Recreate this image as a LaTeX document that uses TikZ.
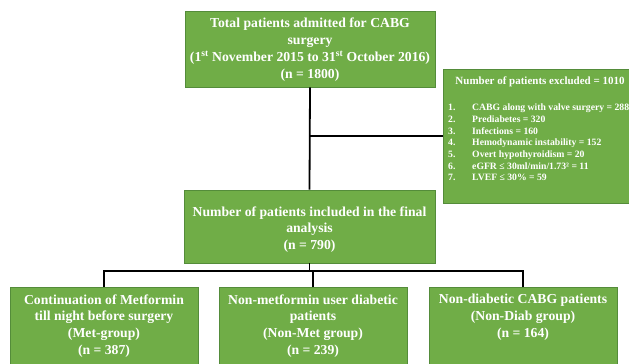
\documentclass[tikz,border=0pt]{standalone}
\usepackage{fontspec}
\setmainfont{Liberation Serif}
\definecolor{boxfill}{HTML}{70AD47}
\definecolor{boxline}{RGB}{84,140,58}
\tikzset{
  x=1pt, y=-1pt,
  gbox/.style={draw=boxline, line width=0.8pt, fill=boxfill, inner sep=0pt, rectangle},
  btext/.style={text=white, font=\bfseries\fontsize{13.7}{16.8}\selectfont, align=center, inner sep=0pt},
  link/.style={draw=black, line width=1.8pt}
}
\begin{document}
\begin{tikzpicture}
\clip (0,0) rectangle (629,364);
\fill[white] (0,0) rectangle (629,364);
% boxes
\node[gbox, minimum width=250pt, minimum height=76pt] (top) at (310,49) {};
\node[gbox, minimum width=200pt, minimum height=134pt] (excl) at (543,136) {};
\node[gbox, minimum width=251pt, minimum height=73pt] (mid) at (309.5,226.5) {};
\node[gbox, minimum width=188pt, minimum height=100pt] (left) at (104,337) {};
\node[gbox, minimum width=188pt, minimum height=100pt] (center) at (313,337) {};
\node[gbox, minimum width=188pt, minimum height=100pt] (right) at (523,337) {};
% texts
\node[btext] (toptext) at (310,49.5) {Total patients admitted for CABG\\surgery\\(1\textsuperscript{st} November 2015 to 31\textsuperscript{st} October 2016)\\(n = 1800)};
\node[btext] (midtext) at (309.5,229.5) {Number of patients included in the final\\analysis\\(n = 790)};
\node[btext] (lefttext) at (104,326) {Continuation of Metformin\\till night before surgery\\(Met-group)\\(n = 387)};
\node[btext] (centertext) at (313,326) {Non-metformin user diabetic\\patients\\(Non-Met group)\\(n = 239)};
\node[btext] (righttext) at (523,317.5) {Non-diabetic CABG patients\\(Non-Diab group)\\(n = 164)};
\node[text=white, font=\bfseries\fontsize{11}{13}\selectfont, inner sep=0pt] (exhead) at (540,82) {Number of patients excluded = 1010};
\node[text=white, font=\bfseries\fontsize{9.7}{11.7}\selectfont, inner sep=0pt, anchor=west] (exlist) at (448,143.5) {%
\begin{tabular}{@{}p{24pt}@{}l@{}}
1. & CABG along with valve surgery = 288\\
2. & Prediabetes = 320\\
3. & Infections = 160\\
4. & Hemodynamic instability = 152\\
5. & Overt hypothyroidism = 20\\
6. & eGFR ≤ 30ml/min/1.73² = 11\\
7. & LVEF ≤ 30\% = 59
\end{tabular}};
% connectors
\coordinate (bus) at (309.5,271);
\draw[link] (top.south) -- (mid.north);
\draw[link] (excl.west -| mid.north) -- (excl.west);
\draw[link] (mid.south) -- (bus);
\draw[link, line join=miter] (left.north) |- (bus) -| (right.north);
\draw[link] (center.north) -- (center.north |- bus);
\end{tikzpicture}
\end{document}
